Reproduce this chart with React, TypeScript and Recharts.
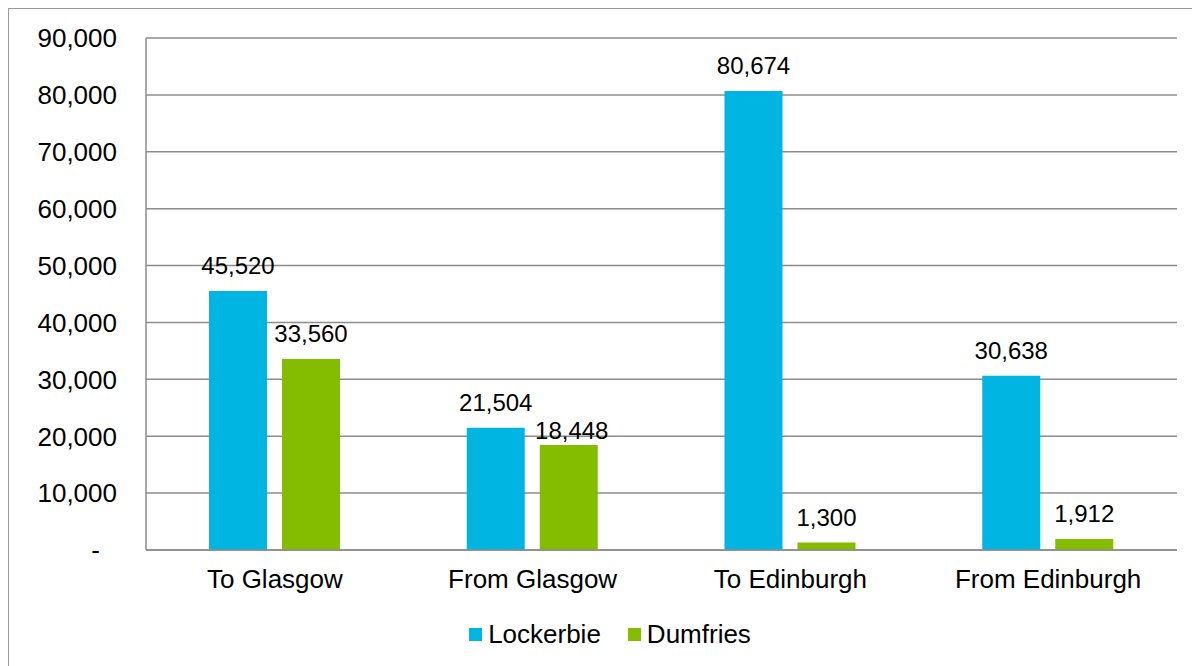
import { BarChart, Bar, XAxis, YAxis, CartesianGrid, Legend, LabelList } from 'recharts';

const categories = ['To Glasgow', 'From Glasgow', 'To Edinburgh', 'From Edinburgh'];
const lockerbie = [45520, 21504, 80674, 30638];
const dumfries = [33560, 18448, 1300, 1912];
const yTicks = [0, 10000, 20000, 30000, 40000, 50000, 60000, 70000, 80000, 90000];

const chartData = categories.map((name, i) => ({
  name,
  Lockerbie: lockerbie[i],
  Dumfries: dumfries[i],
}));

const FONT = '"Liberation Sans", Arial, sans-serif';
const GRID = '#8c8c8c';

const fmt = (v: number) => v.toLocaleString('en-US');

function YTick({ x, y, payload }: any) {
  const zero = payload.value === 0;
  return (
    <text x={zero ? x - 17 : x} y={y} dy="0.36em" textAnchor="end" fontSize={26} fill="#000" fontFamily={FONT}>
      {zero ? '-' : fmt(payload.value)}
    </text>
  );
}

// Excel pushed the 18,448 label down a bit next to its neighbour
function ValueLabel(props: any) {
  const { x, y, width, value, index, nudge } = props;
  const shift = nudge && nudge.index === index ? nudge : { dx: 0, dy: 0 };
  return (
    <text
      x={x + width / 2 + shift.dx}
      y={y - 17 + shift.dy}
      textAnchor="middle"
      fontSize={24}
      fill="#000"
      fontFamily={FONT}
    >
      {fmt(value)}
    </text>
  );
}

function LegendBox() {
  const items = [
    { label: 'Lockerbie', color: '#00B5E2' },
    { label: 'Dumfries', color: '#84BC00' },
  ];
  return (
    <div
      style={{
        display: 'flex',
        justifyContent: 'center',
        gap: 27,
        fontFamily: FONT,
        fontSize: 26,
        marginLeft: 34,
        marginTop: 7,
      }}
    >
      {items.map((it) => (
        <div key={it.label} style={{ display: 'flex', alignItems: 'center' }}>
          <span style={{ width: 13, height: 13, background: it.color, marginRight: 6, display: 'inline-block' }} />
          <span>{it.label}</span>
        </div>
      ))}
    </div>
  );
}

export default function App() {
  return (
    <div
      style={{
        width: 1192,
        height: 658,
        borderLeft: `1.5px solid #9a9a9a`,
        borderTop: `1.5px solid #9a9a9a`,
        boxSizing: 'border-box',
        background: '#fff',
      }}
    >
      <BarChart
        width={1191}
        height={657}
        data={chartData}
        margin={{ top: 29, right: 23, left: 0, bottom: 0 }}
        barSize={58}
        barGap={15}
      >
        <CartesianGrid vertical={false} stroke={GRID} strokeWidth={1.5} />
        <XAxis
          dataKey="name"
          axisLine={{ stroke: GRID, strokeWidth: 1.5 }}
          tickLine={false}
          tickSize={0}
          tickMargin={20}
          height={62}
          tick={{ fontSize: 26, fill: '#000', fontFamily: FONT }}
        />
        <YAxis
          domain={[0, 90000]}
          ticks={yTicks}
          interval={0}
          width={137}
          axisLine={{ stroke: GRID, strokeWidth: 1.5 }}
          tickLine={false}
          tickSize={0}
          tickMargin={29}
          tick={<YTick />}
        />
        <Legend verticalAlign="bottom" height={54} content={<LegendBox />} />
        <Bar dataKey="Lockerbie" fill="#00B5E2" isAnimationActive={false}>
          <LabelList dataKey="Lockerbie" content={<ValueLabel />} />
        </Bar>
        <Bar dataKey="Dumfries" fill="#84BC00" isAnimationActive={false}>
          <LabelList dataKey="Dumfries" content={<ValueLabel nudge={{ index: 1, dx: 3, dy: 11 }} />} />
        </Bar>
      </BarChart>
    </div>
  );
}
